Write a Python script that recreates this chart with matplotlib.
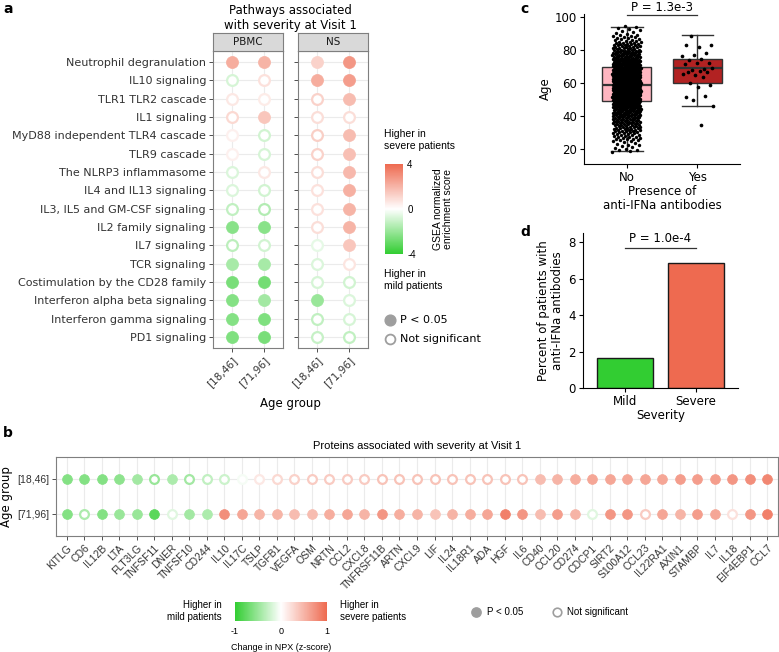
import numpy as np
import matplotlib
matplotlib.use("Agg")
from matplotlib import pyplot as plt
from matplotlib.colors import LinearSegmentedColormap, Normalize
from matplotlib.cm import ScalarMappable

# ---------------- data: panel a ----------------
pathways = ["Neutrophil degranulation", "IL10 signaling", "TLR1 TLR2 cascade",
            "IL1 signaling", "MyD88 independent TLR4 cascade", "TLR9 cascade",
            "The NLRP3 inflammasome", "IL4 and IL13 signaling",
            "IL3, IL5 and GM-CSF signaling", "IL2 family signaling", "IL7 signaling",
            "TCR signaling", "Costimulation by the CD28 family",
            "Interferon alpha beta signaling", "Interferon gamma signaling",
            "PD1 signaling"]
age_groups = ["[18,46]", "[71,96]"]
pbmc_young = [2.2, -0.8, 0.6, 1.0, 0.4, 0.4, -0.7, -0.7, -1.2, -2.3, -1.3, -1.7, -2.6, -2.4, -2.4, -2.5]
pbmc_young_sig = [1, 0, 0, 0, 0, 0, 0, 0, 0, 1, 0, 1, 1, 1, 1, 1]
pbmc_old = [2.0, 0.8, 0.5, 1.5, -0.9, -0.8, 0.6, -0.9, -1.5, -2.3, -0.9, -1.7, -2.7, -1.8, -2.5, -2.6]
pbmc_old_sig = [1, 0, 0, 1, 0, 0, 0, 0, 0, 1, 0, 1, 1, 1, 1, 1]
ns_young = [1.2, 2.2, 1.2, 0.9, 1.3, 1.2, 0.9, 0.8, 0.8, 0.9, -0.5, -0.7, -0.8, -2.0, -1.2, -1.1]
ns_young_sig = [1, 1, 0, 0, 0, 0, 0, 0, 0, 0, 0, 0, 0, 1, 0, 0]
ns_old = [2.8, 2.6, 1.8, 0.9, 1.8, 1.7, 1.9, 2.1, 2.0, 2.0, 1.5, 0.7, -0.9, -0.7, -0.8, -1.2]
ns_old_sig = [1, 1, 1, 0, 1, 1, 1, 1, 1, 1, 1, 0, 0, 0, 0, 0]

# ---------------- data: panel b ----------------
proteins = ["KITLG", "CD6", "IL12B", "LTA", "FLT3LG", "TNFSF11", "DNER", "TNFSF10",
            "CD244", "IL10", "IL17C", "TSLP", "TGFB1", "VEGFA", "OSM", "NRTN", "CCL2",
            "CXCL8", "TNFRSF11B", "ARTN", "CXCL9", "LIF", "IL24", "IL18R1", "ADA", "HGF",
            "IL6", "CD40", "CCL20", "CD274", "CDCP1", "SIRT2", "S100A12", "CCL23",
            "IL22RA1", "AXIN1", "STAMBP", "IL7", "IL18", "EIF4EBP1", "CCL7"]
young_change = [-0.6, -0.6, -0.6, -0.55, -0.45, -0.5, -0.4, -0.45, -0.3, -0.25, -0.05,
                0.15, 0.25, 0.3, 0.35, 0.35, 0.35, 0.35, 0.4, 0.4, 0.4, 0.4, 0.4, 0.4,
                0.4, 0.4, 0.4, 0.45, 0.5, 0.55, 0.6, 0.6, 0.6, 0.6, 0.6, 0.65, 0.65,
                0.65, 0.7, 0.75, 0.8]
young_sig = [1, 1, 1, 1, 1, 0, 1, 0, 0, 0, 0,
             0, 0, 0, 0, 0, 0, 0, 0, 0, 0, 0, 0, 0, 0, 0, 0,
             1, 1, 1, 1, 1, 1, 1, 1, 1, 1, 1, 1, 1, 1]
old_change = [-0.6, -0.4, -0.6, -0.5, -0.5, -0.8, -0.15, -0.45, -0.4, 0.75, 0.6,
              0.5, 0.5, 0.45, 0.45, 0.55, 0.6, 0.5, 0.7, 0.55, 0.5, 0.4, 0.5, 0.55,
              0.6, 0.85, 0.7, 0.45, 0.65, 0.5, -0.15, 0.7, 0.7, 0.35, 0.6, 0.5, 0.65,
              0.6, 0.2, 0.7, 0.85]
old_sig = [1, 0, 1, 1, 1, 1, 0, 1, 1, 1, 1,
           1, 1, 1, 1, 1, 1, 1, 1, 1, 1, 1, 1, 1, 1, 1, 1,
           1, 1, 1, 0, 1, 1, 0, 1, 1, 1, 1, 0, 1, 1]

# ---------------- data: panel c ----------------
antibody_groups = ["No", "Yes"]
box_stats = [dict(med=59, q1=49, q3=70, whislo=19, whishi=94, fliers=[]),
             dict(med=69, q1=60, q3=75, whislo=46, whishi=89, fliers=[])]
# age histogram of the "No" group, read from the point cloud
no_age_edges = [18, 25, 30, 35, 40, 45, 50, 55, 60, 65, 70, 75, 80, 85, 90, 95]
no_age_counts = [14, 20, 30, 38, 48, 62, 75, 85, 85, 75, 60, 45, 30, 16, 8]
yes_ages = [88.6, 83.4, 82, 83, 78.4, 77.4, 76.4, 75, 74, 72.4, 72, 71.4, 68.4, 68,
            69, 67.6, 67, 67, 65, 65.6, 64, 60, 59, 58, 51.4, 52, 50, 46, 34.4]
p_age = "P = 1.3e-3"

# ---------------- data: panel d ----------------
severity = ["Mild", "Severe"]
pct_antibodies = [1.65, 6.85]
p_severity = "P = 1.0e-4"

W, H = 779, 652
fig = plt.figure(figsize=(W / 100, H / 100), dpi=100)
cmap = LinearSegmentedColormap.from_list("gwr", ["#32CD32", "white", "#EE6A50"])
grid_c = "#EBEBEB"
frame_c = "#7F7F7F"


def add_ax(left, top, right, bottom):
    return fig.add_axes([left / W, 1 - bottom / H, (right - left) / W, (bottom - top) / H])


def ftext(x, y, s, **kw):
    return fig.text(x / W, 1 - y / H, s, **kw)


def dots(ax, xs, ys, vals, sig, norm, size, lw):
    for x, y, v, s in zip(xs, ys, vals, sig):
        c = cmap(norm(v))
        if s:
            ax.scatter(x, y, s=size, color=c, edgecolors=c, linewidths=0.5, zorder=3)
        else:
            ax.scatter(x, y, s=size * 0.8, facecolors="white", edgecolors=c,
                       linewidths=lw, zorder=3)


# ---------------- panel a ----------------
norm_a = Normalize(-4, 4)
rows = np.arange(len(pathways))
facets = [("PBMC", [(pbmc_young, pbmc_young_sig), (pbmc_old, pbmc_old_sig)]),
          ("NS", [(ns_young, ns_young_sig), (ns_old, ns_old_sig)])]
for i, (name, cols) in enumerate(facets):
    left = 213 + i * 85
    ax = add_ax(left, 51, left + 70, 348)
    ax.set_axisbelow(True)
    ax.grid(color=grid_c, lw=0.8)
    for j, (vals, sig) in enumerate(cols):
        dots(ax, [j] * len(rows), rows, vals, sig, norm_a, 75, 1.6)
    ax.set_xlim(-0.6, 1.6)
    ax.set_ylim(len(rows) - 0.4, -0.6)
    ax.set_xticks([0, 1])
    ax.set_xticklabels(age_groups, rotation=45, ha="right", va="top",
                       rotation_mode="anchor", fontsize=7.5)
    ax.set_yticks(rows)
    if i == 0:
        ax.set_yticklabels(pathways, fontsize=8)
    else:
        ax.set_yticklabels([])
        ax.tick_params(axis="y", length=0)
    ax.tick_params(colors="#333333", length=3, width=0.6, pad=2)
    for sp in ax.spines.values():
        sp.set_color(frame_c)
        sp.set_linewidth(0.8)
    st = add_ax(left, 33, left + 70, 51)
    st.set_facecolor("#D9D9D9")
    st.set_xticks([])
    st.set_yticks([])
    for sp in st.spines.values():
        sp.set_color(frame_c)
        sp.set_linewidth(0.8)
    st.text(0.5, 0.5, name, ha="center", va="center", fontsize=7.5, color="#1A1A1A")

ftext(290, 18, "Pathways associated\nwith severity at Visit 1", ha="center", va="center",
      fontsize=8.5, linespacing=1.2)
ftext(290, 403, "Age group", ha="center", va="center", fontsize=8.5)

cax = add_ax(385, 164, 403, 254)
cb = fig.colorbar(ScalarMappable(norm=norm_a, cmap=cmap), cax=cax, ticks=[-4, 0, 4])
cb.outline.set_visible(False)
cb.ax.set_yticklabels(["-4", "0", "4"], family="Liberation Sans")
cb.ax.tick_params(labelsize=7, length=0, pad=3)
ftext(443, 209, "GSEA normalized\nenrichment score", rotation=90, ha="center",
      va="center", fontsize=7.5, family="Liberation Sans", linespacing=1.1)
ftext(384, 140, "Higher in\nsevere patients", ha="left", va="center", fontsize=7.5,
      family="Liberation Sans", linespacing=1.2)
ftext(384, 280, "Higher in\nmild patients", ha="left", va="center", fontsize=7.5,
      family="Liberation Sans", linespacing=1.2)
leg = add_ax(380, 310, 520, 350)
leg.set_xlim(0, 140)
leg.set_ylim(40, 0)
leg.axis("off")
leg.scatter(10, 10, s=60, color="#9E9E9E")
leg.scatter(10, 29, s=50, facecolors="white", edgecolors="#9E9E9E", linewidths=1.3)
leg.text(20, 10, "P < 0.05", va="center", fontsize=8)
leg.text(20, 29, "Not significant", va="center", fontsize=8)

# ---------------- panel b ----------------
norm_b = Normalize(-1, 1)
axb = add_ax(56, 457, 778, 536)
axb.set_axisbelow(True)
axb.grid(color=grid_c, lw=0.8)
xs = np.arange(len(proteins))
dots(axb, xs, [0] * len(xs), young_change, young_sig, norm_b, 50, 1.6)
dots(axb, xs, [1] * len(xs), old_change, old_sig, norm_b, 50, 1.6)
axb.set_xlim(-0.6, len(proteins) - 0.4)
axb.set_ylim(1.6, -0.6)
axb.set_xticks(xs)
axb.set_xticklabels(proteins, rotation=45, ha="right", va="top", rotation_mode="anchor",
                    fontsize=7.5, family="Liberation Sans")
axb.set_yticks([0, 1])
axb.set_yticklabels(age_groups, fontsize=7.5, family="Liberation Sans")
axb.set_ylabel("Age group", fontsize=8.5, labelpad=3)
axb.tick_params(colors="#333333", length=3, width=0.6, pad=2)
for sp in axb.spines.values():
    sp.set_color(frame_c)
    sp.set_linewidth(0.8)
ftext(417, 446, "Proteins associated with severity at Visit 1", ha="center", va="center",
      fontsize=8, family="Liberation Sans")

cbx = add_ax(235, 602, 327, 621)
cbb = fig.colorbar(ScalarMappable(norm=norm_b, cmap=cmap), cax=cbx, orientation="horizontal",
                   ticks=[-1, 0, 1])
cbb.outline.set_visible(False)
cbb.ax.set_xticklabels(["-1", "0", "1"], family="Liberation Sans")
cbb.ax.tick_params(labelsize=6.5, length=0, pad=4)
ftext(281, 647, "Change in NPX (z-score)", ha="center", va="center", fontsize=6.5,
      family="Liberation Sans")
ftext(222, 611, "Higher in\nmild patients", ha="right", va="center", fontsize=7,
      family="Liberation Sans", linespacing=1.2)
ftext(340, 611, "Higher in\nsevere patients", ha="left", va="center", fontsize=7,
      family="Liberation Sans", linespacing=1.2)
legb = add_ax(465, 600, 660, 624)
legb.set_xlim(465, 660)
legb.set_ylim(24, 0)
legb.axis("off")
legb.scatter(476, 12, s=45, color="#9E9E9E")
legb.scatter(557, 12, s=38, facecolors="white", edgecolors="#9E9E9E", linewidths=1.2)
legb.text(487, 12, "P < 0.05", va="center", fontsize=7, family="Liberation Sans")
legb.text(567, 12, "Not significant", va="center", fontsize=7, family="Liberation Sans")

# ---------------- panel c ----------------
axc = add_ax(584, 14, 740, 164)
bp = axc.bxp(box_stats, positions=[0, 1], widths=0.7, patch_artist=True, showfliers=False,
             capwidths=0.45,
             boxprops=dict(edgecolor="#333333", linewidth=1),
             medianprops=dict(color="#333333", linewidth=1.6),
             whiskerprops=dict(color="#333333", linewidth=1),
             capprops=dict(color="#333333", linewidth=1))
for patch, fc in zip(bp["boxes"], ["#FFB6C1", "#B22222"]):
    patch.set_facecolor(fc)

golden = 0.6180339887
no_ages = []
for lo, hi, n in zip(no_age_edges[:-1], no_age_edges[1:], no_age_counts):
    no_ages.extend(np.linspace(lo, hi, n, endpoint=False) + (hi - lo) / (2 * n))
no_ages = np.array(no_ages)
jit_no = ((np.arange(len(no_ages)) * golden) % 1 - 0.5) * 0.4
jit_yes = ((np.arange(len(yes_ages)) * golden + 0.3) % 1 - 0.5) * 0.45
axc.scatter(jit_no, no_ages, s=6, color="black", zorder=4, linewidths=0)
axc.scatter(1 + jit_yes, yes_ages, s=7, color="black", zorder=4, linewidths=0)
axc.plot([0, 1], [101.5, 101.5], color="#333333", lw=0.9, clip_on=False)
axc.text(0.5, 102, p_age, ha="center", va="bottom", fontsize=8.5, clip_on=False)
axc.set_xlim(-0.6, 1.6)
axc.set_ylim(11, 102)
axc.set_yticks([20, 40, 60, 80, 100])
axc.set_xticks([0, 1])
axc.set_xticklabels(antibody_groups)
axc.set_ylabel("Age", fontsize=8.5, labelpad=2)
axc.set_xlabel("Presence of\nanti-IFNa antibodies", fontsize=8.5, labelpad=1,
               linespacing=1.1)

# ---------------- panel d ----------------
axd = add_ax(583, 233, 738, 388)
axd.bar([0, 1], pct_antibodies, width=0.8, color=["#32CD32", "#EE6A50"],
        edgecolor="#1A1A1A", linewidth=1)
axd.plot([0, 1], [7.7, 7.7], color="#333333", lw=0.9, clip_on=False)
axd.text(0.5, 7.85, p_severity, ha="center", va="bottom", fontsize=8.5)
axd.set_xlim(-0.6, 1.6)
axd.set_ylim(0, 8.5)
axd.set_yticks([0, 2, 4, 6, 8])
axd.set_xticks([0, 1])
axd.set_xticklabels(severity)
axd.set_ylabel("Percent of patients with\nanti-IFNa antibodies", fontsize=8.5, labelpad=3,
               linespacing=1.1)
axd.set_xlabel("Severity", fontsize=8.5, labelpad=1)

for ax in (axc, axd):
    for side in ("top", "right"):
        ax.spines[side].set_visible(False)
    for side in ("left", "bottom"):
        ax.spines[side].set_linewidth(0.8)
    ax.tick_params(labelsize=8.5, length=3, width=0.8, pad=2)

# ---------------- panel letters ----------------
for x, y, s in [(3, 9, "a"), (3, 433, "b"), (520, 9, "c"), (520, 232, "d")]:
    ftext(x, y, s, fontsize=10, fontweight="bold", ha="left", va="center")

fig.savefig("out.png", dpi=100)
